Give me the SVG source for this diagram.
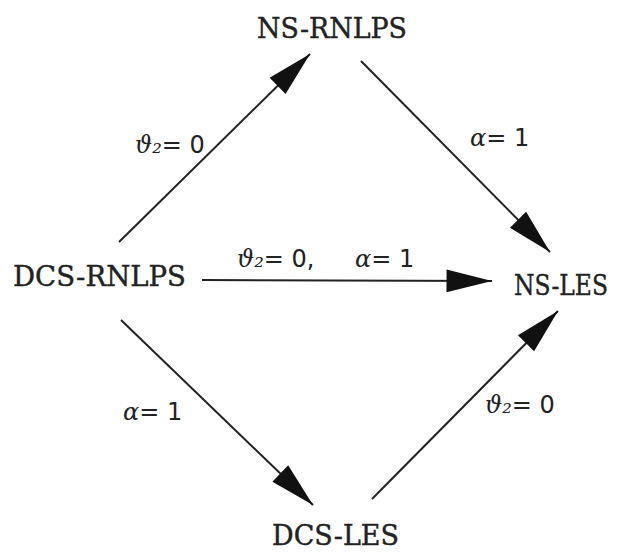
<svg xmlns="http://www.w3.org/2000/svg" width="621" height="553" viewBox="0 0 621 553">
<style>
.node{font-family:"DejaVu Serif","Liberation Serif",serif;font-size:27px;fill:#222;stroke:#222;stroke-width:0.4}
.lbl{font-family:"DejaVu Sans","Liberation Sans",sans-serif;font-size:24px;fill:#222}
.m{font-family:"DejaVu Serif","Liberation Serif",serif;font-style:italic}
.edge{stroke:#222;stroke-width:2;fill:none;marker-end:url(#ah)}
</style>
<defs>
<marker id="ah" markerUnits="userSpaceOnUse" markerWidth="50" markerHeight="30" viewBox="-42 -12 44 24" refX="0" refY="0" orient="auto">
<path d="M0,0 L-40,-10 L-40,10 Z" fill="#111"/>
</marker>
</defs>
<rect width="621" height="553" fill="#fff"/>
<g id="connectors">
<line class="edge" x1="119" y1="242" x2="310" y2="54"/>
<line class="edge" x1="361" y1="61" x2="550" y2="252"/>
<line class="edge" x1="202" y1="280" x2="492" y2="281"/>
<line class="edge" x1="121" y1="320" x2="313" y2="505"/>
<line class="edge" x1="372" y1="499" x2="558" y2="311"/>
</g>
<g id="labels">
<text class="lbl" x="135" y="153"><tspan class="m">ϑ₂</tspan>= 0</text>
<text class="lbl" x="470" y="146"><tspan class="m">α</tspan>= 1</text>
<text class="lbl" x="237" y="267"><tspan class="m">ϑ₂</tspan>= 0,</text>
<text class="lbl" x="355" y="267"><tspan class="m">α</tspan>= 1</text>
<text class="lbl" x="123" y="420"><tspan class="m">α</tspan>= 1</text>
<text class="lbl" x="485" y="413"><tspan class="m">ϑ₂</tspan>= 0</text>
</g>
<g id="NS-RNLPS"><text class="node" x="257" y="38" textLength="150" lengthAdjust="spacingAndGlyphs">NS-RNLPS</text></g>
<g id="DCS-RNLPS"><text class="node" x="13" y="286" textLength="173" lengthAdjust="spacingAndGlyphs">DCS-RNLPS</text></g>
<g id="NS-LES"><text class="node" x="514" y="295" textLength="94" lengthAdjust="spacingAndGlyphs">NS-LES</text></g>
<g id="DCS-LES"><text class="node" x="272" y="545" textLength="127" lengthAdjust="spacingAndGlyphs">DCS-LES</text></g>
</svg>
